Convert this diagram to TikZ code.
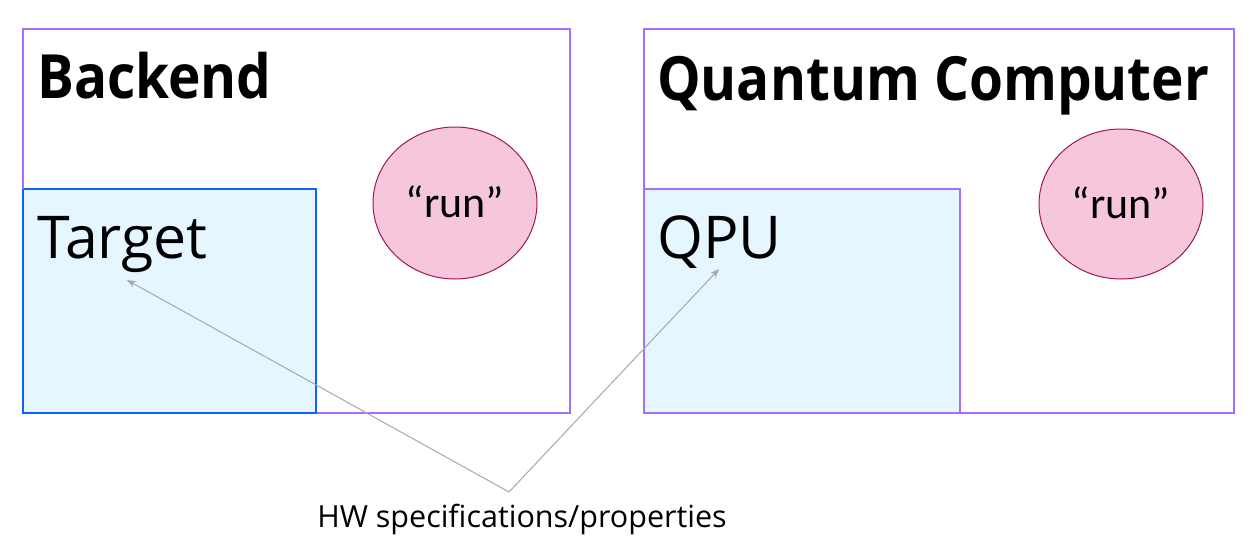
\documentclass[tikz,border=0pt]{standalone}
\usepackage{fontspec}
\usepackage{graphicx}
\setmainfont{Open Sans}
\newfontfamily\runfont{Carlito}
\usetikzlibrary{arrows.meta}
\definecolor{outerc}{HTML}{A56EFF}
\definecolor{tgtc}{HTML}{0F62FE}
\definecolor{fillc}{HTML}{E5F6FF}
\definecolor{elfill}{HTML}{F5C6DC}
\definecolor{eldraw}{HTML}{9F1853}
\definecolor{arrc}{HTML}{A8A8A8}
\newcommand{\narrow}[1]{\scalebox{0.9}[1]{#1}}
\tikzset{
  outerbox/.style={draw=outerc, line width=1.2pt},
  innerbox/.style={fill=fillc, line width=1.2pt},
  runell/.style={draw=eldraw, fill=elfill, line width=1pt},
  title/.style={anchor=base west, inner sep=0pt, font=\fontsize{61}{61}\selectfont\bfseries},
  label/.style={anchor=base west, inner sep=0pt, font=\fontsize{59}{59}\selectfont},
  runtxt/.style={anchor=base, inner sep=0pt, font=\runfont\fontsize{44}{44}\selectfont},
  conn/.style={draw=arrc, line width=1pt, -{Stealth[length=9pt,width=7pt]}}
}
\begin{document}
\begin{tikzpicture}[x=1pt,y=-1pt]
\useasboundingbox (0,0) rectangle (1258,551);
% left
\draw[outerbox] (23,29) rectangle (570,413);
\draw[innerbox, draw=tgtc] (23,189) rectangle (316,413);
\draw[outerbox] (23,29) -- (23,189);
\draw[runell] (455,203) ellipse [x radius=82, y radius=76];
\node[title] (backend) at (37,99) {\narrow{Backend}};
\node[label] (target) at (37,258) {Target};
\node[runtxt] (run1) at (455,217) {“run”};
% right
\draw[outerbox] (644,29) rectangle (1234,413);
\draw[innerbox, draw=outerc] (644,189) rectangle (960,413);
\draw[runell] (1121,204) ellipse [x radius=82, y radius=75];
\node[title] (qc) at (657,100) {\narrow{Quantum Computer}};
\node[label] (qpu) at (657,258) {QPU};
\node[runtxt] (run2) at (1121,218) {“run”};
% bottom
\node[anchor=base, inner sep=0pt, font=\fontsize{30.5}{30.5}\selectfont] (hw) at (522,527) {HW specifications/properties};
\coordinate (apex) at (509,492);
\coordinate (ttip) at (127,280);
\coordinate (qtip) at (719,269);
\draw[conn] (apex) -- (ttip);
\draw[conn] (apex) -- (qtip);
\end{tikzpicture}
\end{document}
